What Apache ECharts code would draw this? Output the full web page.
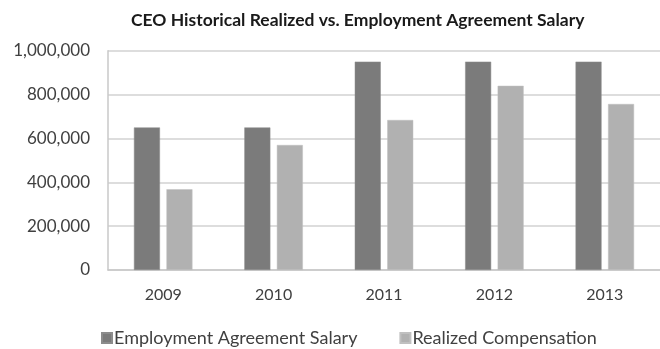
<!DOCTYPE html>
<html>
<head>
<meta charset="utf-8">
<script src="https://cdn.jsdelivr.net/npm/echarts@6/dist/echarts.min.js"></script>
<style>
  html, body { margin: 0; padding: 0; background: #fff; }
  #chart { width: 660px; height: 349px; }
</style>
</head>
<body>
<div id="chart"></div>
<script>
// Fiscal years on the category axis
const years = ['2009', '2010', '2011', '2012', '2013'];
// Salary set by the employment agreement, per year
const agreementSalary = [650000, 650000, 950000, 950000, 950000];
// Compensation actually realized, per year
const realizedComp = [368000, 570000, 684000, 840000, 757000];
// Value axis ticks
const yTicks = [0, 200000, 400000, 600000, 800000, 1000000];

const FONT = 'Lato, "Open Sans", sans-serif';
const TEXT = '#404040';

const chart = echarts.init(document.getElementById('chart'), null, { renderer: 'canvas' });

chart.setOption({
  animation: false,
  backgroundColor: '#ffffff',
  title: {
    text: 'CEO Historical Realized vs. Employment Agreement Salary',
    left: 126,
    top: 6,
    textStyle: { fontFamily: FONT, fontSize: 17.5, fontWeight: 'bold', color: '#1a1a1a' }
  },
  legend: {
    left: 96,
    top: 324,
    itemWidth: 10,
    itemHeight: 10,
    itemGap: 42,
    icon: 'rect',
    textStyle: { fontFamily: FONT, fontSize: 18, color: TEXT, padding: [0, 0, 0, -3] },
    data: ['Employment Agreement Salary', 'Realized Compensation']
  },
  grid: {
    left: 108,
    top: 50.7,
    width: 563,
    height: 219.3,
    containLabel: false
  },
  xAxis: {
    type: 'category',
    data: years,
    axisLine: { show: true, lineStyle: { color: '#c8c8c8', width: 1.5 } },
    axisTick: { show: false },
    axisLabel: { fontFamily: FONT, fontSize: 16, color: TEXT, margin: 17 }
  },
  yAxis: {
    type: 'value',
    min: yTicks[0],
    max: yTicks[yTicks.length - 1],
    interval: yTicks[1] - yTicks[0],
    axisLine: { show: true, lineStyle: { color: '#c8c8c8', width: 1.5 } },
    axisTick: { show: false },
    splitLine: { lineStyle: { color: '#d2d2d2', width: 1.5 } },
    axisLabel: {
      fontFamily: FONT, fontSize: 17, color: TEXT, margin: 18,
      formatter: v => v.toLocaleString('en-US')
    }
  },
  series: [
    {
      name: 'Employment Agreement Salary',
      type: 'bar',
      data: agreementSalary,
      barWidth: 26,
      barGap: '25%',
      itemStyle: { color: '#7b7b7b', borderColor: '#8c8c8c', borderWidth: 0.5 }
    },
    {
      name: 'Realized Compensation',
      type: 'bar',
      data: realizedComp,
      barWidth: 26,
      barGap: '25%',
      itemStyle: { color: '#b1b1b1', borderColor: '#c0c0c0', borderWidth: 0.5 }
    }
  ]
});
</script>
</body>
</html>
